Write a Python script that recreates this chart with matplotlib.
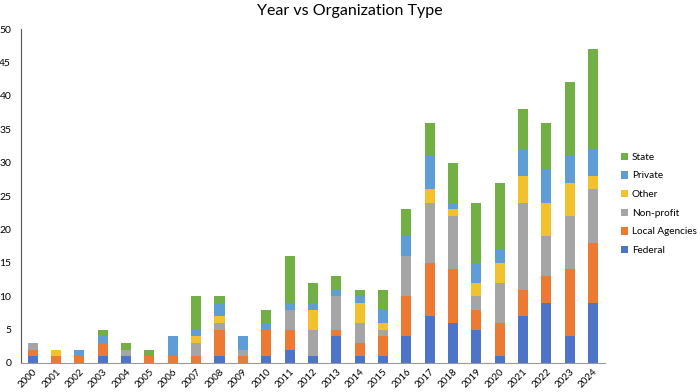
import numpy as np
import matplotlib
matplotlib.use("Agg")
import matplotlib.pyplot as plt

plt.rcParams['font.family'] = ['Lato', 'DejaVu Sans']

years = [str(y) for y in range(2000, 2025)]
federal = [1, 0, 0, 1, 1, 0, 0, 0, 1, 0, 1, 2, 1, 4, 1, 1, 4, 7, 6, 5, 1, 7, 9, 4, 9]
local = [1, 1, 1, 2, 0, 1, 1, 1, 4, 1, 4, 3, 0, 1, 2, 3, 6, 8, 8, 3, 5, 4, 4, 10, 9]
nonprofit = [1, 0, 0, 0, 1, 0, 0, 2, 1, 1, 0, 3, 4, 5, 3, 1, 6, 9, 8, 2, 6, 13, 6, 8, 8]
other = [0, 1, 0, 0, 0, 0, 0, 1, 1, 0, 0, 0, 3, 0, 3, 1, 0, 2, 1, 2, 3, 4, 5, 5, 2]
private = [0, 0, 1, 1, 0, 0, 3, 1, 2, 2, 1, 1, 1, 1, 1, 2, 3, 5, 1, 3, 2, 4, 5, 4, 4]
state = [0, 0, 0, 1, 1, 1, 0, 5, 1, 0, 2, 7, 3, 2, 1, 3, 4, 5, 6, 9, 10, 6, 7, 11, 15]

series = [
    ('Federal', federal, '#4E74C8'),
    ('Local Agencies', local, '#EC7A33'),
    ('Non-profit', nonprofit, '#A5A5A5'),
    ('Other', other, '#F2C12E'),
    ('Private', private, '#5E9DD6'),
    ('State', state, '#72B045'),
]

fig = plt.figure(figsize=(7, 3.92), dpi=100)
ax = fig.add_axes([0.03, 0.074, 0.834, 0.852])

x = np.arange(len(years))
bottom = np.zeros(len(years))
handles = []
for name, vals, col in series:
    b = ax.bar(x, vals, 0.43, bottom=bottom, color=col, label=name)
    bottom += np.array(vals)
    handles.append(b)

ax.set_xlim(-0.5, len(years) - 0.5)
ax.set_ylim(0, 50)
ax.set_yticks(range(0, 51, 5))
ax.set_xticks(x)
ax.set_xticklabels(years, rotation=45, ha='right', rotation_mode='anchor', fontsize=7)
ax.tick_params(axis='y', labelsize=7.5, length=0, pad=7)
ax.tick_params(axis='x', length=0, pad=3)
for s in ['top', 'right']:
    ax.spines[s].set_visible(False)
ax.spines['left'].set_color('#555555')
ax.spines['bottom'].set_color('#999999')

fig.suptitle('Year vs Organization Type', fontsize=11.5, y=0.99)

fig.legend(handles[::-1], [s[0] for s in series][::-1], loc='center left',
           bbox_to_anchor=(0.887, 0.48), frameon=False, fontsize=7.2,
           handlelength=0.75, handleheight=0.75, handletextpad=0.35,
           labelspacing=0.95, borderaxespad=0, borderpad=0)

fig.savefig('out.png', dpi=100)
